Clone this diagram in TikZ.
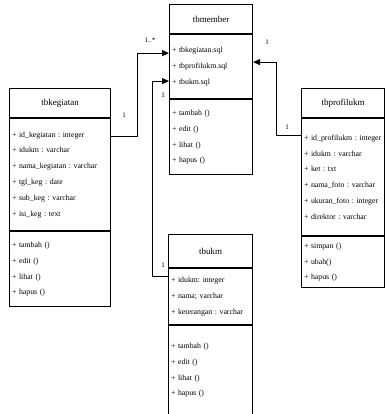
\documentclass[tikz,border=0pt]{standalone}
\usepackage{fontspec}
\setmainfont{Liberation Serif}
\usetikzlibrary{positioning,arrows.meta}

\tikzset{
  classhead/.style={draw, line width=1.1pt, anchor=north west, align=center,
    inner sep=0pt, font=\fontsize{9}{11}\selectfont},
  classpart/.style={draw, line width=1.1pt, anchor=north, align=left,
    inner xsep=2.5pt, inner ysep=0pt, font=\fontsize{7.8}{15.8}\selectfont\frenchspacing},
  assoc/.style={line width=0.9pt, -{Triangle[length=7pt,width=6pt]}},
  mult/.style={font=\fontsize{7}{8}\selectfont, inner sep=0pt}
}

\begin{document}
\begin{tikzpicture}[x=1pt, y=-1pt]

    \useasboundingbox (0,0) rectangle (386,414);

    %tbmember
    \node[classhead, minimum width=83pt, minimum height=29pt] (memHead) at (169,4) {tbmember};
    \node[classpart, below=0pt of memHead, text width=78pt, minimum height=64pt] (memAttr)
        {+ tbkegiatan.sql\\+ tbprofilukm.sql\\+ tbukm.sql};
    \node[classpart, below=0pt of memAttr, text width=78pt, minimum height=75pt] (memOps)
        {+ tambah ()\\+ edit ()\\+ lihat ()\\+ hapus ()};

    %tbkegiatan
    \node[classhead, minimum width=101pt, minimum height=29pt] (kegHead) at (9,88) {tbkegiatan};
    \node[classpart, below=0pt of kegHead, text width=96pt, minimum height=112pt] (kegAttr)
        {+ id\_kegiatan : integer\\+ idukm : varchar\\+ nama\_kegiatan : varchar\\
         + tgl\_keg : date\\+ sub\_keg : varchar\\+ isi\_keg : text};
    \node[classpart, below=0pt of kegAttr, text width=96pt, minimum height=75pt] (kegOps)
        {+ tambah ()\\+ edit ()\\+ lihat ()\\+ hapus ()};

    %tbprofilukm
    \node[classhead, minimum width=83pt, minimum height=29pt] (profHead) at (301,88) {tbprofilukm};
    \node[classpart, below=0pt of profHead, text width=78pt, minimum height=117pt] (profAttr)
        {+ id\_profilukm : integer\\+ idukm : varchar\\+ ket : txt\\
         + nama\_foto : varchar\\+ ukuran\_foto : integer\\+ direktor : varchar};
    \node[classpart, below=0pt of profAttr, text width=78pt, minimum height=51pt] (profOps)
        {+ simpan ()\\+ ubah()\\+ hapus ()};

    %tbukm
    \node[classhead, minimum width=84pt, minimum height=33pt] (ukmHead) at (168,234) {tbukm};
    \node[classpart, below=0pt of ukmHead, text width=79pt, minimum height=56pt] (ukmAttr)
        {+ idukm: integer\\+ nama; varchar\\+ keterangan : varchar};
    \node[classpart, below=0pt of ukmAttr, text width=79pt, minimum height=89pt] (ukmOps)
        {+ tambah ()\\+ edit ()\\+ lihat ()\\+ hapus ()};

    %associations
    \draw[assoc] ([yshift=-18pt]kegAttr.north east) -- ++(26,0) |- ([yshift=-19pt]memAttr.north west);
    \draw[assoc] ([yshift=-8pt]ukmAttr.north west) -- ++(-16,0) |- ([yshift=-47pt]memAttr.north west);
    \draw[assoc] ([yshift=-17pt]profAttr.north west) -- ++(-25,0) |- ([yshift=-28pt]memAttr.north east);

    %multiplicities
    \node[mult] (kegMany) at (150,40) {1..*};
    \node[mult] (kegOne) at (124,115) {1};
    \node[mult] (ukmOneTop) at (163,95) {1};
    \node[mult] (ukmOne) at (163,265) {1};
    \node[mult] (profOneTop) at (267,42) {1};
    \node[mult] (profOne) at (287,127) {1};

\end{tikzpicture}
\end{document}
